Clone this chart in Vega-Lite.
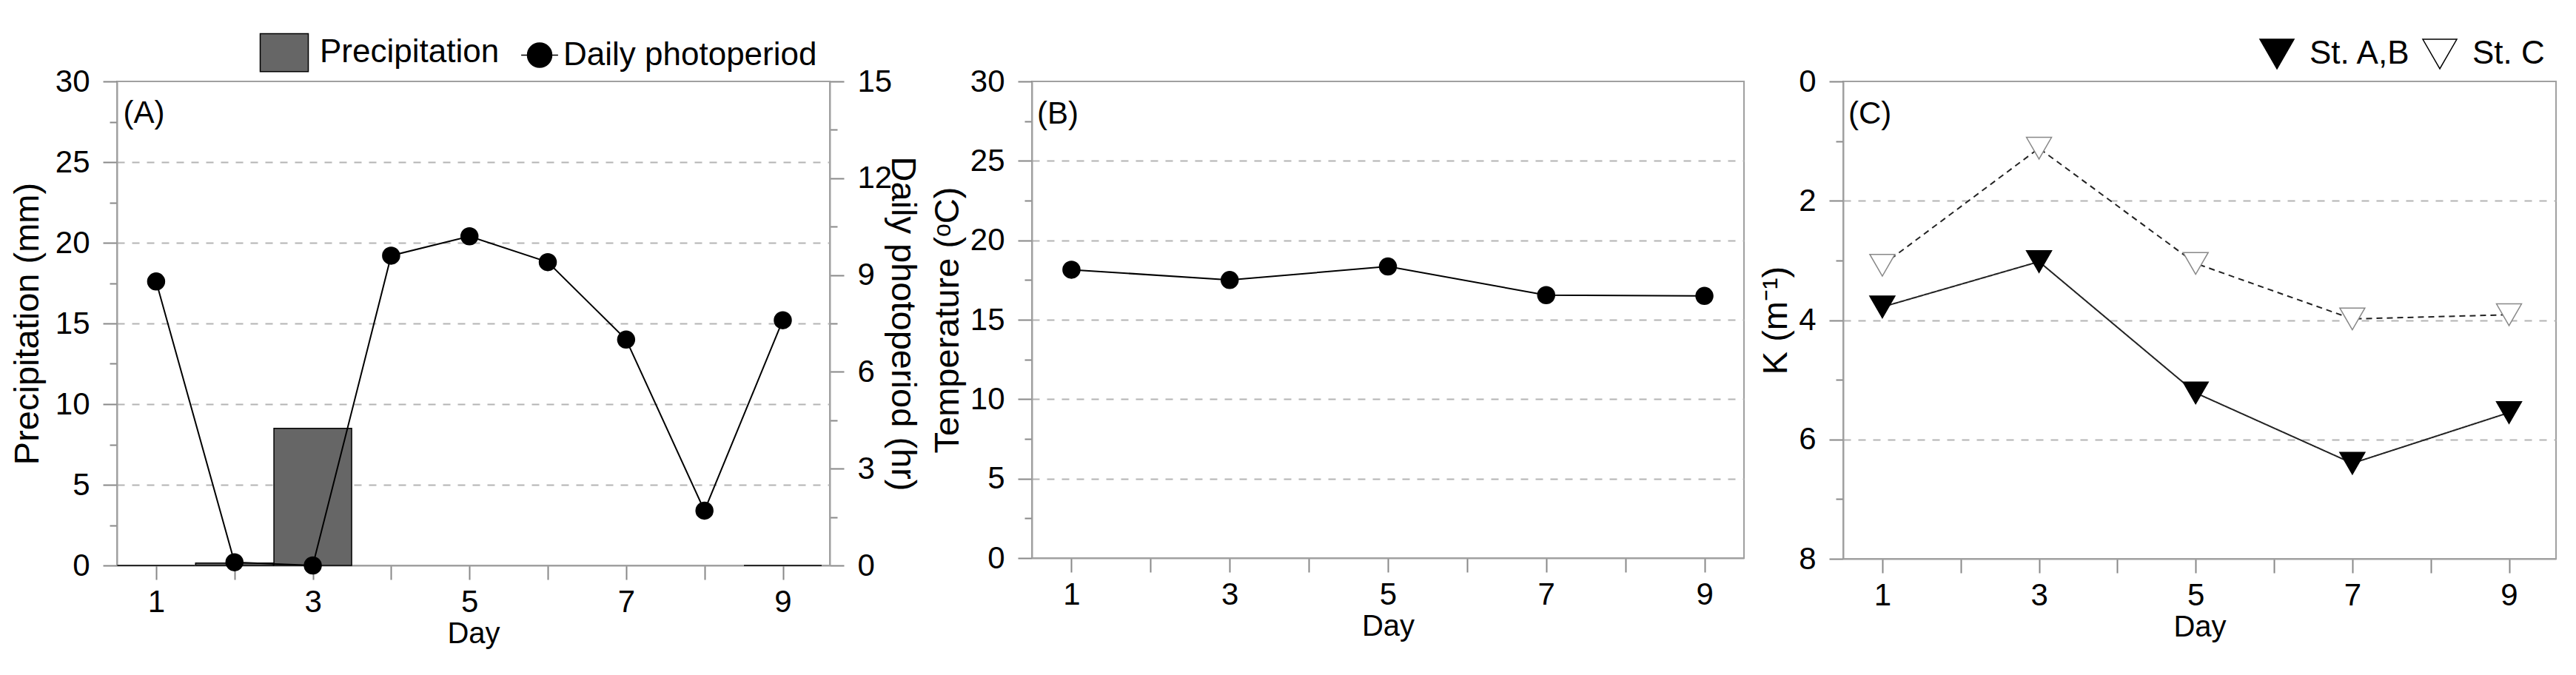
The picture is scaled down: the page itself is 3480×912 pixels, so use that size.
{
  "$schema": "https://vega.github.io/schema/vega-lite/v6.json",
  "padding": {"left": 12, "top": 36, "right": 0, "bottom": 0},
  "background": "white",
  "config": {
    "font": "Liberation Sans",
    "view": {"stroke": "#a0a0a0", "strokeWidth": 2},
    "axis": {
      "labelFont": "Liberation Sans", "titleFont": "Liberation Sans",
      "labelFontSize": 42, "titleFontSize": 47, "labelColor": "black", "titleColor": "black",
      "titleFontWeight": "normal",
      "domainColor": "#a0a0a0", "domainWidth": 2,
      "tickColor": "#888888", "tickWidth": 2,
      "gridColor": "#b4b4b4", "gridDash": [10, 10], "gridWidth": 2,
      "labelOverlap": false, "labelFlush": false, "labelBound": false
    },
    "legend": {"labelFont": "Liberation Sans", "labelFontSize": 44, "labelColor": "black", "padding": 0, "labelLimit": 0}
  },
  "datasets": {
    "precip": [
      {"day": 1, "precip": 0},
      {"day": 2, "precip": 0.15},
      {"day": 3, "precip": 8.5},
      {"day": 9, "precip": 0}
    ],
    "photo": [
      {"day": 1, "photo": 8.8},
      {"day": 2, "photo": 0.1},
      {"day": 3, "photo": 0.0},
      {"day": 4, "photo": 9.6},
      {"day": 5, "photo": 10.2},
      {"day": 6, "photo": 9.4},
      {"day": 7, "photo": 7.0},
      {"day": 8, "photo": 1.7},
      {"day": 9, "photo": 7.6}
    ],
    "temp": [
      {"day": 1, "temp": 18.15},
      {"day": 3, "temp": 17.5},
      {"day": 5, "temp": 18.35},
      {"day": 7, "temp": 16.55},
      {"day": 9, "temp": 16.5}
    ],
    "kval": [
      {"day": 1, "station": "St. A,B", "k": 3.78},
      {"day": 3, "station": "St. A,B", "k": 3.02},
      {"day": 5, "station": "St. A,B", "k": 5.22},
      {"day": 7, "station": "St. A,B", "k": 6.4},
      {"day": 9, "station": "St. A,B", "k": 5.55},
      {"day": 1, "station": "St. C", "k": 3.08},
      {"day": 3, "station": "St. C", "k": 1.12},
      {"day": 5, "station": "St. C", "k": 3.05},
      {"day": 7, "station": "St. C", "k": 3.98},
      {"day": 9, "station": "St. C", "k": 3.91}
    ]
  },
  "spacing": 134,
  "bounds": "flush",
  "resolve": {
    "scale": {"fill": "independent"},
    "legend": {"fill": "independent"}
  },
  "hconcat": [
    {
      "width": 963,
      "height": 654,
      "layer": [
        {
          "layer": [
            {
              "data": {"name": "precip"},
              "mark": {"type": "bar", "orient": "vertical", "width": 105, "stroke": "black", "strokeWidth": 1.5},
              "encoding": {
                "x": {"field": "day", "type": "quantitative", "scale": {"domain": [0.5, 9.6], "nice": false, "zero": false, "padding": 0},
                  "axis": {"title": "Day", "values": [1, 2, 3, 4, 5, 6, 7, 8, 9], "format": "d", "labelExpr": "datum.value % 2 === 1 ? datum.label : ''", "tickSize": 19, "labelPadding": 10, "titlePadding": 2, "titleFontSize": 40, "grid": false}},
                "y": {"field": "precip", "type": "quantitative", "scale": {"domain": [0, 30], "nice": false},
                  "axis": {"title": "Precipitation (mm)", "values": [0, 2.5, 5, 7.5, 10, 12.5, 15, 17.5, 20, 22.5, 25, 27.5, 30],
                    "format": "d",
                    "labelExpr": "datum.value % 5 === 0 ? datum.label : ''",
                    "tickSize": {"condition": {"test": "datum.value % 5 === 0", "value": 19}, "value": 10},
                    "grid": true,
                    "gridOpacity": {"condition": {"test": "datum.value % 5 === 0 && datum.value > 0 && datum.value < 30", "value": 1}, "value": 0},
                    "labelPadding": 18, "titlePadding": 13}},
                "fill": {"datum": "Precipitation", "type": "nominal",
                  "scale": {"domain": ["Precipitation", "Daily photoperiod"], "range": ["#666666", "black"]},
                  "legend": {"title": null, "orient": "none", "legendX": 192, "legendY": -73, "direction": "horizontal",
                    "labelFontSize": 44, "labelOffset": 14, "columnPadding": 4, "symbolSize": 4356, "labelLimit": 0,
                    "symbolStrokeWidth": 1.5, "symbolStrokeColor": "black",
                    "encode": {"symbols": {"update": {
                      "shape": {"signal": "datum.value === 'Precipitation' ? 'M-0.985,-0.78H0.985V0.78H-0.985Z' : 'M-0.27,0H1.24M-0.015,0A0.5,0.5,0,1,0,0.985,0A0.5,0.5,0,1,0,-0.015,0Z'"},
                      "stroke": {"value": "black"}, "strokeWidth": {"value": 1.5}, "size": {"value": 4356}, "opacity": {"value": 1}}}}}}
              }
            },
            {
              "data": {"values": [{"label": "(A)"}]},
              "mark": {"type": "text", "align": "left", "baseline": "middle", "fontSize": 42, "color": "black"},
              "encoding": {
                "x": {"datum": 0.58, "type": "quantitative"},
                "y": {"datum": 28.05, "type": "quantitative"},
                "text": {"field": "label"}
              }
            }
          ]
        },
        {
          "data": {"name": "photo"},
          "layer": [
            {
              "mark": {"type": "line", "color": "black", "strokeWidth": 2},
              "encoding": {
                "x": {"field": "day", "type": "quantitative", "scale": {"domain": [0.5, 9.6], "nice": false, "zero": false, "padding": 0}},
                "y": {"field": "photo", "type": "quantitative", "scale": {"domain": [0, 15], "nice": false},
                  "axis": {"orient": "right", "title": "Daily photoperiod (hr)", "titleAngle": 90,
                    "values": [0, 1.5, 3, 4.5, 6, 7.5, 9, 10.5, 12, 13.5, 15],
                    "format": "d",
                    "labelExpr": "datum.value % 3 === 0 ? datum.label : ''",
                    "tickSize": {"condition": {"test": "datum.value % 3 === 0", "value": 19}, "value": 10},
                    "grid": false, "labelPadding": 18, "titlePadding": -10}}
              }
            },
            {
              "mark": {"type": "point", "shape": "circle", "size": 600, "filled": true, "opacity": 1},
              "encoding": {
                "x": {"field": "day", "type": "quantitative", "scale": {"domain": [0.5, 9.6], "nice": false, "zero": false, "padding": 0}},
                "y": {"field": "photo", "type": "quantitative", "scale": {"domain": [0, 15], "nice": false}},
                "fill": {"datum": "Daily photoperiod", "type": "nominal"}
              }
            }
          ]
        }
      ],
      "resolve": {"scale": {"y": "independent"}}
    },
    {
      "width": 5,
      "height": 10,
      "data": {"values": []},
      "mark": "point",
      "view": {"stroke": null}
    },
    {
      "width": 962,
      "height": 644,
      "data": {"name": "temp"},
      "layer": [
        {
          "mark": {"type": "line", "color": "black", "strokeWidth": 2},
          "encoding": {
            "x": {"field": "day", "type": "quantitative", "scale": {"domain": [0.5, 9.5], "nice": false, "zero": false, "padding": 0},
              "axis": {"title": "Day", "values": [1, 2, 3, 4, 5, 6, 7, 8, 9], "format": "d", "labelExpr": "datum.value % 2 === 1 ? datum.label : ''", "tickSize": 19, "labelPadding": 10, "titlePadding": 2, "titleFontSize": 40, "grid": false}},
            "y": {"field": "temp", "type": "quantitative", "scale": {"domain": [0, 30], "nice": false},
              "axis": {"title": "Temperature (ᵒC)", "values": [0, 2.5, 5, 7.5, 10, 12.5, 15, 17.5, 20, 22.5, 25, 27.5, 30],
                "format": "d",
                "labelExpr": "datum.value % 5 === 0 ? datum.label : ''",
                "tickSize": {"condition": {"test": "datum.value % 5 === 0", "value": 19}, "value": 10},
                "grid": true,
                "gridOpacity": {"condition": {"test": "datum.value % 5 === 0 && datum.value > 0 && datum.value < 30", "value": 1}, "value": 0},
                "labelPadding": 18, "titlePadding": 6}}
          }
        },
        {
          "mark": {"type": "point", "shape": "circle", "size": 600, "filled": true, "opacity": 1, "color": "black"},
          "encoding": {
            "x": {"field": "day", "type": "quantitative"},
            "y": {"field": "temp", "type": "quantitative"}
          }
        },
        {
          "data": {"values": [{"label": "(B)"}]},
          "mark": {"type": "text", "align": "left", "baseline": "middle", "fontSize": 42, "color": "black"},
          "encoding": {
            "x": {"datum": 0.565, "type": "quantitative"},
            "y": {"datum": 27.95, "type": "quantitative"},
            "text": {"field": "label"}
          }
        }
      ]
    },
    {
      "width": 963,
      "height": 645,
      "data": {"name": "kval"},
      "layer": [
        {
          "mark": {"type": "line", "color": "#222222", "strokeWidth": 2},
          "encoding": {
            "x": {"field": "day", "type": "quantitative", "scale": {"domain": [0.5, 9.6], "nice": false, "zero": false, "padding": 0},
              "axis": {"title": "Day", "values": [1, 2, 3, 4, 5, 6, 7, 8, 9], "format": "d", "labelExpr": "datum.value % 2 === 1 ? datum.label : ''", "tickSize": 19, "labelPadding": 10, "titlePadding": 2, "titleFontSize": 40, "grid": false}},
            "y": {"field": "k", "type": "quantitative", "scale": {"domain": [0, 8], "reverse": true, "nice": false},
              "axis": {"title": "K (m⁻¹)", "values": [0, 1, 2, 3, 4, 5, 6, 7, 8],
                "format": "d",
                "labelExpr": "datum.value % 2 === 0 ? datum.label : ''",
                "tickSize": {"condition": {"test": "datum.value % 2 === 0", "value": 19}, "value": 10},
                "grid": true,
                "gridOpacity": {"condition": {"test": "datum.value % 2 === 0 && datum.value > 0 && datum.value < 8", "value": 1}, "value": 0},
                "labelPadding": 18, "titlePadding": 6}},
            "detail": {"field": "station", "type": "nominal"},
            "strokeDash": {"condition": {"test": "datum.station === 'St. C'", "value": [8, 6]}, "value": [1, 0]}
          }
        },
        {
          "mark": {"type": "point", "shape": "triangle-down", "size": 1150, "strokeWidth": 1.5, "opacity": 1},
          "encoding": {
            "x": {"field": "day", "type": "quantitative"},
            "y": {"field": "k", "type": "quantitative"},
            "fill": {"field": "station", "type": "nominal", "scale": {"domain": ["St. A,B", "St. C"], "range": ["black", "white"]},
              "legend": {"title": null, "orient": "none", "legendX": 562, "legendY": -61, "direction": "horizontal",
                "labelFontSize": 44, "labelOffset": 20, "columnPadding": 13, "symbolSize": 2116, "labelLimit": 0,
                "encode": {"symbols": {"update": {
                  "shape": {"signal": "datum.value === 'St. C' ? 'M-1.05,0H-0.85M0.85,0H1.05M-0.76,-0.65L0.76,-0.65L0,0.65Z' : 'M-1,0H1M-0.76,-0.65L0.76,-0.65L0,0.65Z'"},
                  "stroke": {"signal": "datum.value === 'St. C' ? '#888888' : 'black'"},
                  "strokeWidth": {"value": 1.5}, "size": {"value": 2116}, "opacity": {"value": 1}}}}}},
            "stroke": {"condition": {"test": "datum.station === 'St. C'", "value": "#888888"}, "value": "black"}
          }
        },
        {
          "data": {"values": [{"label": "(C)"}]},
          "mark": {"type": "text", "align": "left", "baseline": "middle", "fontSize": 42, "color": "black"},
          "encoding": {
            "x": {"datum": 0.566, "type": "quantitative"},
            "y": {"datum": 0.545, "type": "quantitative"},
            "text": {"field": "label"}
          }
        }
      ]
    }
  ]
}
